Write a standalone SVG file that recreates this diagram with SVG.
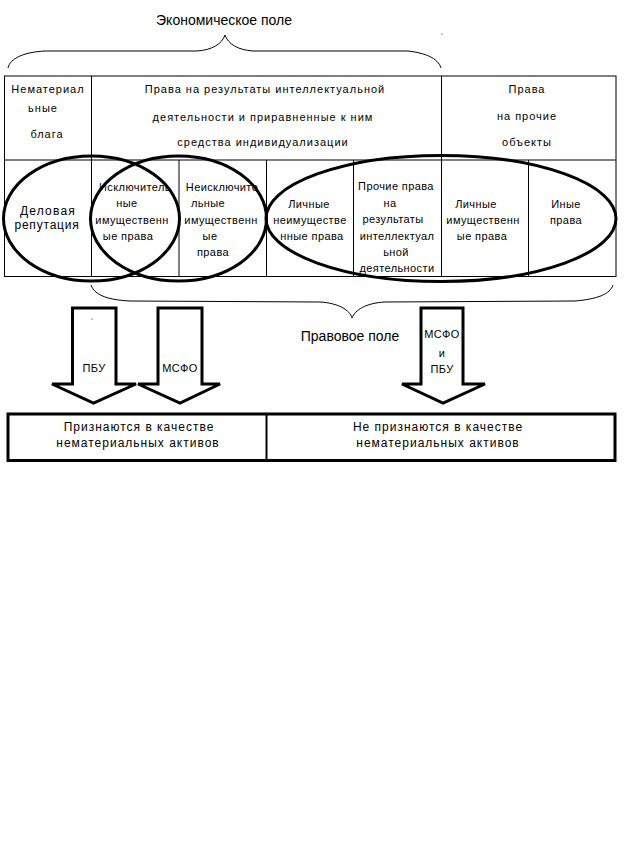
<svg xmlns="http://www.w3.org/2000/svg" width="624" height="841" viewBox="0 0 624 841">
<style>
.t{font-family:"Liberation Sans",Arial,sans-serif;fill:#000}
.h{font-size:11px;letter-spacing:1px}
.c{font-size:11px;letter-spacing:0.4px}
.b{font-size:12px;letter-spacing:1px}
.big{font-size:14px}
.thin{fill:none;stroke:#000;stroke-width:1}
.ell{fill:none;stroke:#000;stroke-width:3}
.arr{fill:#fff;stroke:#000;stroke-width:3;stroke-linejoin:miter}
</style>
<rect width="624" height="841" fill="#fff"/>
<g id="braces">
<path class="thin" d="M8,68 C10,58 25,52 45,51 L197,51 C212,50 222,44 225,35 C228,44 238,50 253,51 L408,51 C425,53 438,58 441,68"/>
<circle cx="442" cy="34" r="0.6" fill="#000"/>
<path class="thin" d="M91,285 C95,296 110,300 130,301 L320,302 C338,303 350,310 352,318 C355,310 366,303 385,302 L575,301 C598,299 610,294 613,285"/>
<text class="t big" x="224" y="25" text-anchor="middle">Экономическое поле</text>
<text class="t big" x="350" y="341" text-anchor="middle">Правовое поле</text>
</g>
<g id="table">
<rect class="thin" x="4.5" y="76" width="611.5" height="200.5"/>
<line class="thin" x1="4.5" y1="160" x2="616" y2="160"/>
<line class="thin" x1="91.5" y1="76" x2="91.5" y2="276.5"/>
<line class="thin" x1="441.5" y1="76" x2="441.5" y2="276.5"/>
<line class="thin" x1="179" y1="160" x2="179" y2="276.5"/>
<line class="thin" x1="266.5" y1="160" x2="266.5" y2="276.5"/>
<line class="thin" x1="353.5" y1="160" x2="353.5" y2="276.5"/>
<line class="thin" x1="528.5" y1="160" x2="528.5" y2="276.5"/>
</g>
<g id="header-left">
<text class="t h" x="48" y="93" text-anchor="middle">Нематериал</text>
<text class="t h" x="43" y="112" text-anchor="middle">ьные</text>
<text class="t h" x="47" y="138" text-anchor="middle">блага</text>
</g>
<g id="header-mid">
<text class="t h" x="265" y="93" text-anchor="middle">Права на результаты интеллектуальной</text>
<text class="t h" x="263" y="121" text-anchor="middle">деятельности и приравненные к ним</text>
<text class="t h" x="263" y="146" text-anchor="middle">средства индивидуализации</text>
</g>
<g id="header-right">
<text class="t h" x="527" y="93" text-anchor="middle">Права</text>
<text class="t h" x="527" y="120" text-anchor="middle">на прочие</text>
<text class="t h" x="527" y="146" text-anchor="middle">объекты</text>
</g>
<g id="cell-reputation">
<text class="t c" x="48" y="215" text-anchor="middle" style="font-size:12px;letter-spacing:1.2px">Деловая</text>
<text class="t c" x="47" y="229" text-anchor="middle" style="font-size:12px;letter-spacing:0.8px">репутация</text>
</g>
<g id="cell-exclusive">
<text class="t c" x="135" y="191" text-anchor="middle">Исключитель</text>
<text class="t c" x="127" y="207" text-anchor="middle">ные</text>
<text class="t c" x="132" y="224" text-anchor="middle">имущественн</text>
<text class="t c" x="128" y="240" text-anchor="middle">ые права</text>
</g>
<g id="cell-nonexclusive">
<text class="t c" x="222" y="191" text-anchor="middle">Неисключите</text>
<text class="t c" x="208" y="207" text-anchor="middle">льные</text>
<text class="t c" x="221" y="224" text-anchor="middle">имущественн</text>
<text class="t c" x="210" y="240" text-anchor="middle">ые</text>
<text class="t c" x="213" y="256" text-anchor="middle">права</text>
</g>
<g id="cell-personal-nonproperty">
<text class="t c" x="309" y="208" text-anchor="middle">Личные</text>
<text class="t c" x="310" y="224" text-anchor="middle">неимуществе</text>
<text class="t c" x="312" y="240" text-anchor="middle">нные права</text>
</g>
<g id="cell-other-ip">
<text class="t c" x="396" y="190" text-anchor="middle">Прочие права</text>
<text class="t c" x="390" y="207" text-anchor="middle">на</text>
<text class="t c" x="393" y="223" text-anchor="middle">результаты</text>
<text class="t c" x="397" y="240" text-anchor="middle">интеллектуал</text>
<text class="t c" x="396" y="256" text-anchor="middle">ьной</text>
<text class="t c" x="397" y="272" text-anchor="middle">деятельности</text>
</g>
<g id="cell-personal-property">
<text class="t c" x="476" y="208" text-anchor="middle">Личные</text>
<text class="t c" x="483" y="224" text-anchor="middle">имущественн</text>
<text class="t c" x="482" y="240" text-anchor="middle">ые права</text>
</g>
<g id="cell-other">
<text class="t c" x="566" y="208" text-anchor="middle">Иные</text>
<text class="t c" x="566" y="224" text-anchor="middle">права</text>
</g>
<g id="ellipses">
<ellipse class="ell" cx="91.5" cy="218.5" rx="88" ry="62.5"/>
<ellipse class="ell" cx="178.5" cy="218.5" rx="88" ry="62.5"/>
<ellipse class="ell" cx="441" cy="218.5" rx="175" ry="63"/>
</g>
<g id="arrow-pbu">
<path class="arr" d="M72.5,308 L116,308 L116,384 L136,384 L93.5,403 L52,384 L72.5,384 Z"/>
<circle cx="92" cy="319" r="0.6" fill="#000"/>
<text class="t c" x="94" y="372" text-anchor="middle">ПБУ</text>
</g>
<g id="arrow-msfo">
<path class="arr" d="M158,308 L202,308 L202,384 L220,384 L180,403 L138,384 L158,384 Z"/>
<text class="t c" x="180" y="372" text-anchor="middle">МСФО</text>
</g>
<g id="arrow-msfo-pbu">
<path class="arr" d="M421,308 L463,308 L463,384 L485,384 L443,403 L402,384 L421,384 Z"/>
<text class="t c" x="442" y="338" text-anchor="middle">МСФО</text>
<text class="t c" x="442" y="357" text-anchor="middle">и</text>
<text class="t c" x="442" y="373" text-anchor="middle">ПБУ</text>
</g>
<g id="result-boxes">
<rect x="8" y="414" width="607" height="46.5" fill="none" stroke="#000" stroke-width="3"/>
<line x1="266.5" y1="414" x2="266.5" y2="460.5" stroke="#000" stroke-width="2"/>
<text class="t b" x="139" y="431" text-anchor="middle">Признаются в качестве</text>
<text class="t b" x="138" y="447" text-anchor="middle">нематериальных активов</text>
<text class="t b" x="438" y="431" text-anchor="middle">Не признаются в качестве</text>
<text class="t b" x="438" y="447" text-anchor="middle">нематериальных активов</text>
</g>
</svg>
